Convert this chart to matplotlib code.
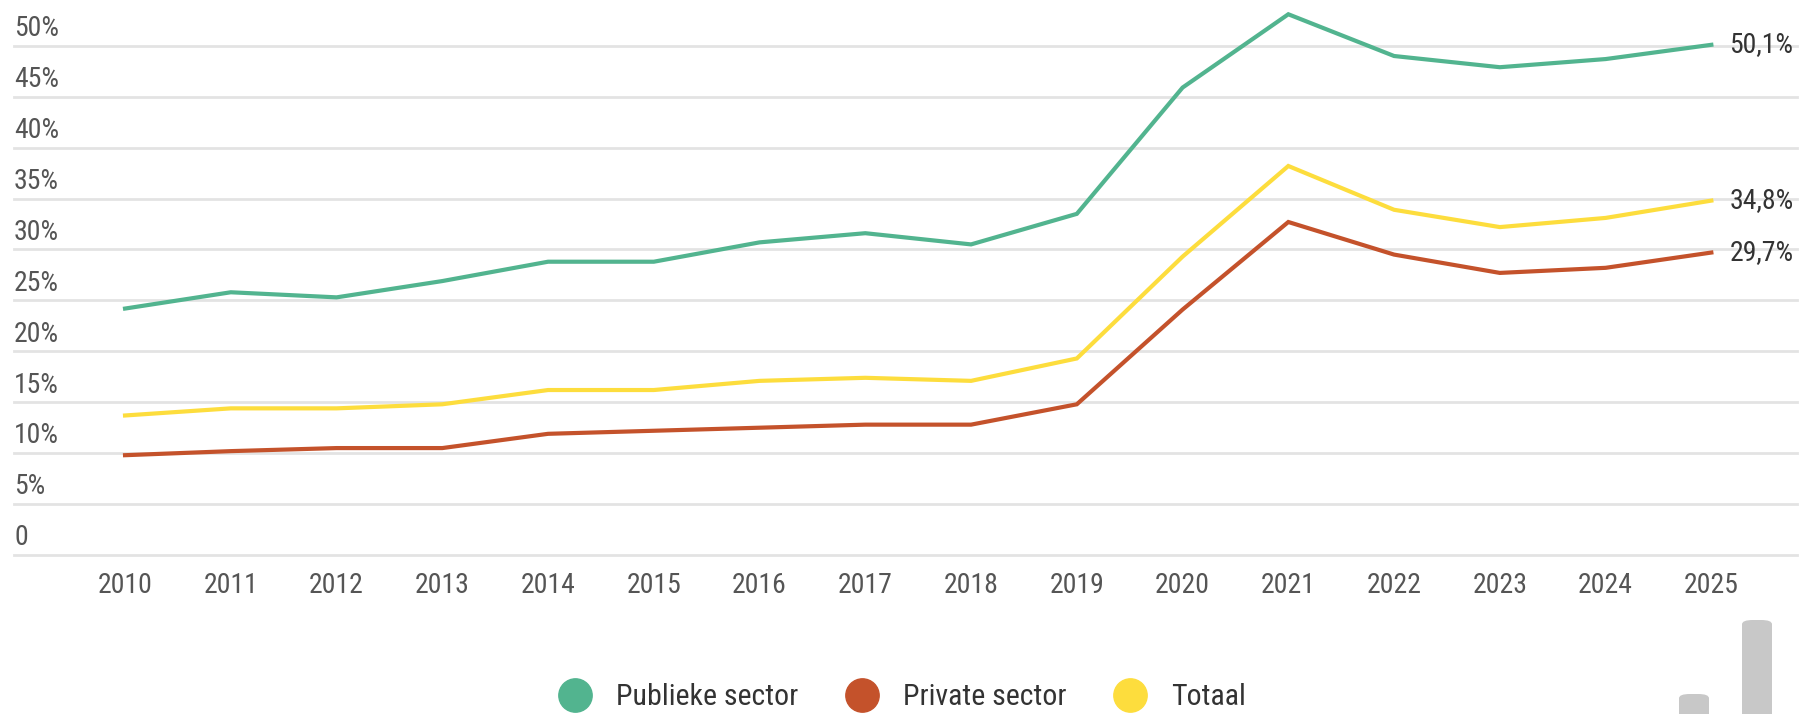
import matplotlib
matplotlib.use('Agg')
import matplotlib.pyplot as plt
from matplotlib import font_manager
from matplotlib.lines import Line2D
from matplotlib.patches import FancyBboxPatch

# Data (percent)
years = list(range(2010, 2026))
publiek = [24.2, 25.8, 25.3, 26.9, 28.8, 28.8, 30.7, 31.6, 30.5, 33.5,
           45.9, 53.1, 49.0, 47.9, 48.7, 50.1]
privaat = [9.8, 10.2, 10.5, 10.5, 11.9, 12.2, 12.5, 12.8, 12.8, 14.8,
           24.1, 32.7, 29.5, 27.7, 28.2, 29.7]
totaal = [13.7, 14.4, 14.4, 14.8, 16.2, 16.2, 17.1, 17.4, 17.1, 19.3,
          29.3, 38.2, 33.9, 32.2, 33.1, 34.8]
labels = ['Publieke sector', 'Private sector', 'Totaal']
yticks = [0, 5, 10, 15, 20, 25, 30, 35, 40, 45, 50]

colors = ['#52b48f', '#c4522b', '#fddd3d']

# Narrow font if we have one, otherwise Roboto
names = {f.name for f in font_manager.fontManager.ttflist}
family = 'Roboto'
for cand in ['Liberation Sans Narrow', 'Roboto Condensed', 'Arial Narrow']:
    if cand in names:
        family = cand
        break
plt.rcParams['font.family'] = [family, 'DejaVu Sans']
fs = 20 if family != 'Roboto' else 17
lfs = fs * 1.075

W, H = 1801, 714
fig = plt.figure(figsize=(W / 100, H / 100), dpi=100)
ax = fig.add_axes([14 / W, (H - 555) / H, (1797 - 14) / W, 555 / H])

ax.set_xlim(2008.95, 2025.81)
ax.set_ylim(0, 54.5)

# Gridlines
ax.set_yticks(yticks)
ax.grid(axis='y', color='#e3e3e3', linewidth=2.0)
for gl in ax.get_ygridlines():
    gl.set_clip_on(False)
ax.set_axisbelow(True)
ax.tick_params(axis='y', length=0, labelleft=False)

for t in yticks:
    txt = '0' if t == 0 else '%d%%' % t
    ax.annotate(txt, xy=(0, t), xycoords=ax.get_yaxis_transform(),
                xytext=(0, 7), textcoords='offset points',
                ha='left', va='baseline', fontsize=fs, color='#555555')

# Series
for vals, c, lab in zip([publiek, privaat, totaal], colors, labels):
    ax.plot(years, vals, color=c, linewidth=3.0, label=lab,
            solid_joinstyle='miter', zorder=3)
    end = ('%.1f%%' % vals[-1]).replace('.', ',')
    ax.annotate(end, xy=(years[-1], vals[-1]), xytext=(13, 0),
                textcoords='offset points', ha='left', va='center',
                fontsize=fs, color='#333333', zorder=4)

ax.set_xticks(years)
ax.set_xticklabels([str(y) for y in years])
ax.tick_params(axis='x', length=0, pad=12, labelsize=fs, labelcolor='#555555')
for s in ax.spines.values():
    s.set_visible(False)

# Legend at the bottom
handles = [Line2D([], [], marker='o', linestyle='', markersize=24,
                  markerfacecolor=c, markeredgecolor=c) for c in colors]
fig.legend(handles, labels, loc='center', ncol=3, frameon=False,
           bbox_to_anchor=(903 / W, 1 - 697 / H), fontsize=lfs,
           handlelength=1.0, handletextpad=0.85, columnspacing=1.65,
           labelcolor='#333333')

# Grey icon bars bottom right
for x0, top in [(1679, 694), (1742, 620)]:
    fig.patches.append(FancyBboxPatch(
        (x0 / W, -0.03), 30 / W, (H - top) / H + 0.03,
        boxstyle='round,pad=0,rounding_size=0.006',
        transform=fig.transFigure, facecolor='#c8c8c8', edgecolor='none'))

fig.savefig('out.png', dpi=100)
